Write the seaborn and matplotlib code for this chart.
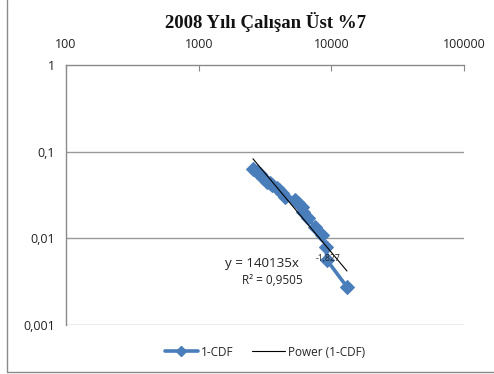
import numpy as np
import pandas as pd
import seaborn as sns
import matplotlib
matplotlib.use("Agg")
import matplotlib.pyplot as plt
from matplotlib.lines import Line2D

# Data
income = [2566, 2760, 2897, 3053, 3270, 3420, 3567, 3890, 4050, 4244, 4470,
          5320, 5600, 6000, 6110, 6660, 7520, 8490, 9100, 9270, 13120]
one_minus_cdf = [0.0631, 0.0590, 0.0553, 0.0497, 0.0447, 0.0430, 0.0413, 0.0381, 0.0360, 0.0334, 0.0300,
                 0.0277, 0.0256, 0.0230, 0.0201, 0.0172, 0.0135, 0.0109, 0.0080, 0.0056, 0.00275]
coef_a = 140135
coef_b = -1.827
eq_main = "y = 140135x"
eq_exp = "-1,827"
r2_text = "R² = 0,9505"
title = "2008 Yılı Çalışan Üst %7"
xticks = [100, 1000, 10000, 100000]
xtick_labels = ["100", "1000", "10000", "100000"]
yticks = [1, 0.1, 0.01, 0.001]
ytick_labels = ["1", "0,1", "0,01", "0,001"]

sns.set_style("white")
plt.rcParams['font.family'] = ['Open Sans', 'DejaVu Sans']

W, H = 494, 374
fig = plt.figure(figsize=(W/100, H/100), dpi=100)
ax = fig.add_axes([66/W, 1-325/H, (464-66)/W, (325-65)/H])

blue = "#4A7EBB"
df = pd.DataFrame({"x": income, "y": one_minus_cdf})
sns.lineplot(data=df, x="x", y="y", ax=ax, sort=False, color=blue, lw=2.6,
             marker="D", markersize=7, markeredgecolor=blue, label="1-CDF")

xt = np.geomspace(min(income), max(income), 50)
trend = pd.DataFrame({"x": xt, "y": coef_a * xt ** coef_b})
sns.lineplot(data=trend, x="x", y="y", ax=ax, color="black", lw=0.8, label="Power (1-CDF)")

ax.set_xscale("log")
ax.set_yscale("log")
ax.set_xlim(100, 100000)
ax.set_ylim(0.001, 1)
ax.set_xticks(xticks)
ax.set_xticklabels(xtick_labels)
ax.set_yticks(yticks)
ax.set_yticklabels(ytick_labels)
ax.minorticks_off()
ax.xaxis.tick_top()
ax.tick_params(axis="x", which="major", direction="in", length=4, color="#888888",
               labelsize=9, pad=10, labelcolor="#222222")
ax.tick_params(axis="y", which="major", direction="out", length=4, color="#888888",
               labelsize=9, pad=4, labelcolor="#222222", right=False)
ax.set_xlabel("")
ax.set_ylabel("")
ax.grid(False)
for yv in [0.1, 0.01, 0.001]:
    ax.axhline(yv, color="#9a9a9a", lw=1, zorder=0)

fig.text(225/W, 1-263/H, eq_main, ha="left", va="center", fontsize=9.6, color="#222222")
fig.text(316/W, 1-258/H, eq_exp, ha="left", va="center", fontsize=6.2, color="#222222")
fig.text(272/W, 1-280/H, r2_text, ha="center", va="center", fontsize=8.5, color="#222222")

fig.text(266/W, 1-22/H, title, ha="center", va="center", fontsize=13.5, fontweight="bold",
         family="Liberation Serif", color="#111111")

ax.get_legend().remove()
handles = [Line2D([0], [0], color=blue, lw=2.6, marker="D", markersize=5),
           Line2D([0], [0], color="black", lw=0.8)]
fig.legend(handles, ["1-CDF", "Power (1-CDF)"], loc="center", bbox_to_anchor=(265/W, 1-352/H),
           ncol=2, frameon=False, fontsize=8.5, handlelength=2.8, columnspacing=1.5, handletextpad=0.3)

for s in ["right", "bottom"]:
    ax.spines[s].set_visible(False)
for s in ["left", "top"]:
    ax.spines[s].set_visible(True)
    ax.spines[s].set_color("#8a8a8a")
    ax.spines[s].set_linewidth(1)

# Chart-area frame: only the left and bottom edges are visible in the reference
fig.add_artist(Line2D([7/W, 7/W], [2/H, 1.0], transform=fig.transFigure, color="#8a8a8a", lw=1))
fig.add_artist(Line2D([7/W, 1.0], [2/H, 2/H], transform=fig.transFigure, color="#8a8a8a", lw=1))

fig.savefig("out.png", dpi=100)
